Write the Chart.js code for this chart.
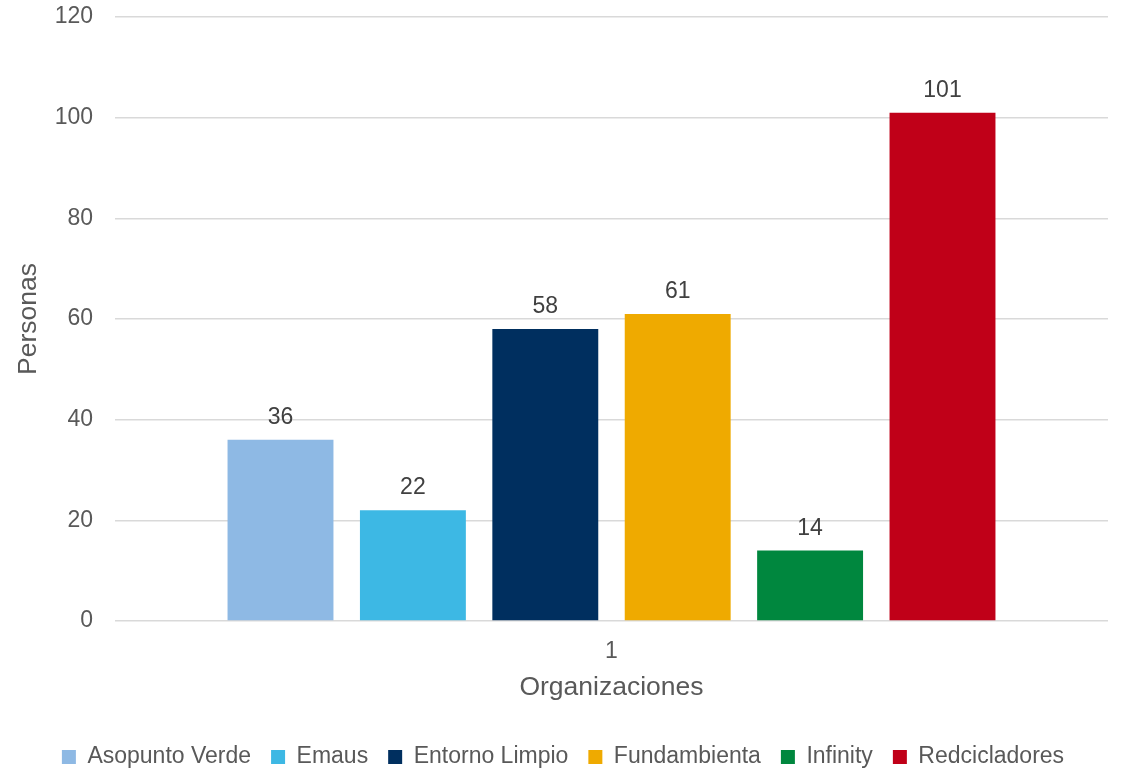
<!DOCTYPE html>
<html><head><meta charset="utf-8">
<script src="https://cdn.jsdelivr.net/npm/chart.js@4/dist/chart.umd.min.js"></script>
<style>html,body{margin:0;padding:0;background:#fff}#wrap{width:1121px;height:769px}</style>
</head><body><div id="wrap"><canvas id="c"></canvas></div>
<script>
const categories = ["1"];
const seriesNames = ["Asopunto Verde","Emaus","Entorno Limpio","Fundambienta","Infinity","Redcicladores"];
const seriesValues = [36, 22, 58, 61, 14, 101];
const seriesColors = ["#8EB9E4","#3DB8E4","#002F5F","#EFAA00","#00873E","#C00018"];
const yTicks = [0,20,40,60,80,100,120];

const FONT = "'Liberation Sans', Arial, sans-serif";
const labelPlugin = {
  id: 'vlabels',
  afterDatasetsDraw(chart) {
    const ctx = chart.ctx;
    ctx.save();
    ctx.font = "23px " + FONT;
    ctx.fillStyle = "#404040";
    ctx.textAlign = "center";
    ctx.textBaseline = "alphabetic";
    chart.data.datasets.forEach((ds, i) => {
      const meta = chart.getDatasetMeta(i);
      meta.data.forEach((el, j) => {
        ctx.fillText(String(ds.data[j]), el.x, el.y - 16);
      });
    });
    ctx.restore();
  }
};

new Chart(document.getElementById('c'), {
  type: 'bar',
  data: {
    labels: categories,
    datasets: seriesNames.map((n, i) => ({
      label: n, data: [seriesValues[i]], backgroundColor: seriesColors[i],
      categoryPercentage: 0.8, barPercentage: 0.8
    }))
  },
  options: {
    responsive: true, maintainAspectRatio: false, animation: false,
    layout: { padding: { top: 17, right: 13, left: 18, bottom: -9.5 } },
    plugins: {
      legend: {
        position: 'bottom',
        labels: { font: { family: FONT, size: 23 }, color: '#595959', boxWidth: 14, boxHeight: 14, padding: 20 }
      },
      tooltip: { enabled: false }
    },
    scales: {
      x: {
        afterFit(axis) { axis.height = 104.5; },
        grid: { display: false, drawTicks: false },
        border: { display: false },
        ticks: { font: { family: FONT, size: 23 }, color: '#595959', padding: 17 },
        title: { display: true, text: 'Organizaciones', font: { family: FONT, size: 26.5 }, color: '#595959', padding: { top: 0, bottom: 21.6 } }
      },
      y: {
        min: 0, max: 120,
        afterFit(axis) { axis.width = 97; axis.paddingTop = 0; axis.paddingBottom = 0; },
        afterBuildTicks(axis) { axis.ticks = yTicks.map(v => ({ value: v })); },
        grid: { color: '#D9D9D9', lineWidth: 1.5, drawTicks: false },
        border: { display: false },
        ticks: { font: { family: FONT, size: 23 }, color: '#595959', padding: 22 },
        title: { display: true, text: 'Personas', font: { family: FONT, size: 26.5 }, color: '#595959', padding: { top: -5, bottom: 0 } }
      }
    }
  },
  plugins: [labelPlugin]
});
</script></body></html>
